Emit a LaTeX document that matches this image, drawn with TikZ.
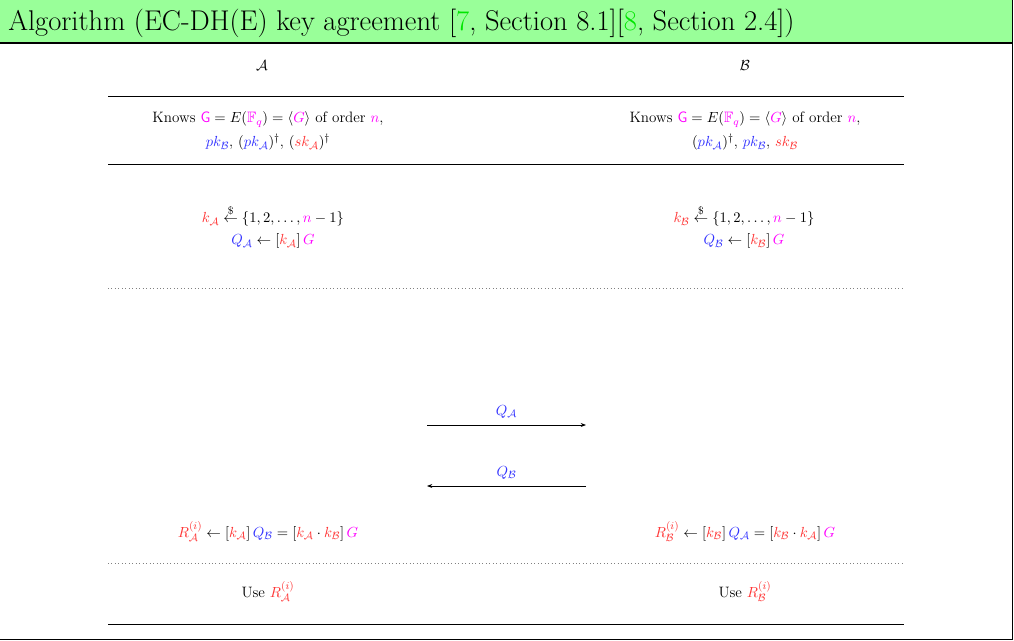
\documentclass[tikz,border=0pt]{standalone}
\usepackage{amsmath,amssymb}
\usepackage{fontspec}
\usetikzlibrary{arrows.meta}
\definecolor{hdr}{RGB}{153,255,153}
\definecolor{cr}{RGB}{255,51,51}
\definecolor{cb}{RGB}{51,51,255}
\definecolor{cm}{RGB}{255,0,255}
\definecolor{cg}{RGB}{0,230,0}
\newcommand{\ccA}{\mathcal{A}}
\newcommand{\ccB}{\mathcal{B}}
\newcommand{\rr}[1]{\textcolor{cr}{#1}}
\newcommand{\bb}[1]{\textcolor{cb}{#1}}
\newcommand{\mm}[1]{\textcolor{cm}{#1}}
\begin{document}
\begin{tikzpicture}[x=0.75pt,y=-0.75pt,
  txt/.style={font=\fontsize{11.3}{13}\selectfont, inner sep=0pt, anchor=base},
  rule/.style={line width=0.75pt},
  dots/.style={dotted, line width=0.6pt, gray},
  msg/.style={line width=0.6pt, -{Stealth[length=4pt,width=3pt]}}]
\useasboundingbox (0,0) rectangle (1014,641);
\fill[white] (0,0) rectangle (1014,641);
\fill[hdr] (0,0) rectangle (1013,43);
\draw[line width=2.2pt] (0,43) -- (1013,43);
\draw[line width=0.9pt] (1012.5,0) -- (1012.5,640);
\draw[line width=0.8pt] (0,639.5) -- (1013,639.5);
\node[anchor=base west, inner sep=0pt, font=\fontsize{21.4}{25}\selectfont] (title) at (8,31)
  {Algorithm (EC-DH(E) key agreement [\textcolor{cg}{7}, Section 8.1][\textcolor{cg}{8}, Section 2.4])};
% parties
\node[txt] (pa) at (262,71) {$\ccA$};
\node[txt] (pb) at (745,71) {$\ccB$};
% rules
\coordinate (l1a) at (108,97);  \coordinate (l1b) at (904,97);
\coordinate (l2a) at (108,165); \coordinate (l2b) at (904,165);
\coordinate (l3a) at (108,288); \coordinate (l3b) at (904,288);
\coordinate (l4a) at (108,563); \coordinate (l4b) at (904,563);
\coordinate (l5a) at (108,624); \coordinate (l5b) at (904,624);
\draw[rule] (l1a) -- (l1b);
\draw[rule] (l2a) -- (l2b);
\draw[dots] (l3a) -- (l3b);
\draw[dots] (l4a) -- (l4b);
\draw[rule] (l5a) -- (l5b);
% knows
\node[txt] (ka1) at (268,123) {Knows $\mm{\mathsf{G}} = E(\mm{\mathbb{F}_q}) = \langle \mm{G}\rangle$ of order $\mm{n}$,};
\node[txt] (ka2) at (268,147) {$\bb{pk_{\ccB}}$, $(\bb{pk_{\ccA}})^{\dagger}$, $(\rr{sk_{\ccA}})^{\dagger}$};
\node[txt] (kb1) at (745,123) {Knows $\mm{\mathsf{G}} = E(\mm{\mathbb{F}_q}) = \langle \mm{G}\rangle$ of order $\mm{n}$,};
\node[txt] (kb2) at (745,147) {$(\bb{pk_{\ccA}})^{\dagger}$, $\bb{pk_{\ccB}}$, $\rr{sk_{\ccB}}$};
% key generation
\node[txt] (ga1) at (273,223) {$\rr{k_{\ccA}} \stackrel{\$}{\leftarrow} \{1,2,\ldots,\mm{n}-1\}$};
\node[txt] (ga2) at (273,245) {$\bb{Q_{\ccA}} \leftarrow [\rr{k_{\ccA}}]\,\mm{G}$};
\node[txt] (gb1) at (744,223) {$\rr{k_{\ccB}} \stackrel{\$}{\leftarrow} \{1,2,\ldots,\mm{n}-1\}$};
\node[txt] (gb2) at (744,245) {$\bb{Q_{\ccB}} \leftarrow [\rr{k_{\ccB}}]\,\mm{G}$};
% messages
\coordinate (m1a) at (427,425); \coordinate (m1b) at (586,425);
\coordinate (m2a) at (586,486); \coordinate (m2b) at (427,486);
\draw[msg] (m1a) -- node[txt, above=5pt, anchor=south] (q1) {$\bb{Q_{\ccA}}$} (m1b);
\draw[msg] (m2a) -- node[txt, above=5pt, anchor=south] (q2) {$\bb{Q_{\ccB}}$} (m2b);
% shared secret
\node[txt] (ra) at (268,537) {$\rr{R^{(i)}_{\ccA}} \leftarrow [\rr{k_{\ccA}}]\,\bb{Q_{\ccB}} = [\rr{k_{\ccA}}\cdot \rr{k_{\ccB}}]\,\mm{G}$};
\node[txt] (rb) at (745,537) {$\rr{R^{(i)}_{\ccB}} \leftarrow [\rr{k_{\ccB}}]\,\bb{Q_{\ccA}} = [\rr{k_{\ccB}}\cdot \rr{k_{\ccA}}]\,\mm{G}$};
\node[txt] (ua) at (268,597) {Use $\rr{R^{(i)}_{\ccA}}$};
\node[txt] (ub) at (745,597) {Use $\rr{R^{(i)}_{\ccB}}$};
\end{tikzpicture}
\end{document}
